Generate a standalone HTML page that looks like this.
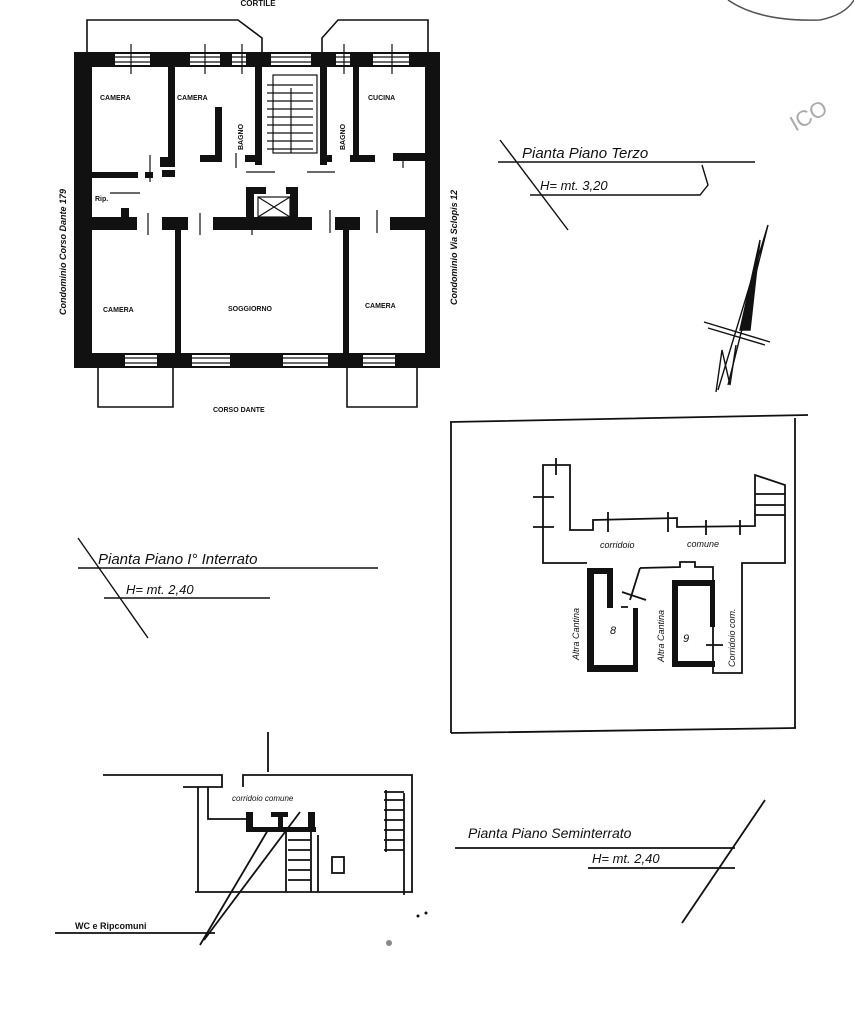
<!DOCTYPE html>
<html><head><meta charset="utf-8"><style>
html,body{margin:0;padding:0;background:#fff}
svg{display:block}
text{font-family:"Liberation Sans",sans-serif;fill:#111}
</style></head><body>
<svg width="854" height="1024" viewBox="0 0 854 1024" xmlns="http://www.w3.org/2000/svg">
<g stroke="#111" fill="none" stroke-width="1.6">
<text x="258" y="6" font-size="8" font-weight="bold" text-anchor="middle" stroke="none">CORTILE</text>
<polyline points="87,52 87,20 238,20 262,38 262,52"/>
<polyline points="322,52 322,38 338,20 428,20 428,52"/>
<polyline points="98,368 98,407 173,407 173,368"/>
<polyline points="347,368 347,407 417,407 417,368"/>
</g>
<path d="M728,0 Q760,22 820,20 Q845,15 854,0" stroke="#555" stroke-width="1.5" fill="none"/>
<g fill="#111">
<rect x="74" y="52" width="366" height="15"/>
<rect x="74" y="353" width="366" height="15"/>
<rect x="74" y="52" width="18" height="316"/>
<rect x="425" y="52" width="15" height="316"/>
<rect x="168" y="62" width="7" height="105"/>
<rect x="160" y="157" width="15" height="10"/>
<rect x="215" y="107" width="7" height="55"/>
<rect x="200" y="155" width="22" height="7"/>
<rect x="145" y="172" width="8" height="6"/>
<rect x="162" y="170" width="13" height="7"/>
<rect x="255" y="62" width="7" height="103"/>
<rect x="245" y="155" width="17" height="7"/>
<rect x="320" y="62" width="7" height="103"/>
<rect x="320" y="155" width="12" height="7"/>
<rect x="353" y="62" width="6" height="98"/>
<rect x="350" y="155" width="25" height="7"/>
<rect x="393" y="153" width="35" height="8"/>
<rect x="92" y="172" width="46" height="6"/>
<rect x="121" y="208" width="8" height="10"/>
<rect x="92" y="217" width="45" height="13"/>
<rect x="162" y="217" width="26" height="13"/>
<rect x="213" y="217" width="99" height="13"/>
<rect x="335" y="217" width="25" height="13"/>
<rect x="390" y="217" width="40" height="13"/>
<rect x="175" y="228" width="6" height="130"/>
<rect x="343" y="228" width="6" height="130"/>
<rect x="246" y="187" width="8" height="30"/>
<rect x="246" y="187" width="20" height="7"/>
<rect x="290" y="187" width="8" height="30"/>
<rect x="286" y="187" width="12" height="7"/>
</g>
<g fill="#fff">
<rect x="115" y="54" width="35" height="11"/><rect x="190" y="54" width="30" height="11"/>
<rect x="232" y="54" width="14" height="11"/><rect x="271" y="54" width="40" height="11"/>
<rect x="336" y="54" width="14" height="11"/><rect x="373" y="54" width="36" height="11"/>
<rect x="125" y="355" width="32" height="11"/><rect x="192" y="355" width="38" height="11"/>
<rect x="283" y="355" width="45" height="11"/><rect x="363" y="355" width="32" height="11"/>
</g>
<g stroke="#111" stroke-width="1.2" fill="none">
<path d="M115,57H150M115,62H150M190,57H220M190,62H220M232,57H246M232,62H246M271,57H311M271,62H311M336,57H350M336,62H350M373,57H409M373,62H409"/>
<path d="M125,358H157M125,363H157M192,358H230M192,363H230M283,358H328M283,363H328M363,358H395M363,363H395"/>
<path d="M131,44V74M205,44V74M242,44V74M344,44V74M392,44V74"/>
<path d="M150,155V170M236,153V168M403,153V168M148,213V235M150,163V182M200,213V235M252,213V235M330,210V233M377,210V233"/>
<path d="M246,172H275M307,172H335M110,193H140"/>
<rect x="273" y="75" width="44" height="78"/>
<path d="M267,85H313M267,93H313M267,101H313M267,109H313M267,117H313M267,125H313M267,133H313M267,141H313M267,149H313M291,88V153"/>
<rect x="258" y="197" width="32" height="20"/>
<path d="M258,197L290,217M290,197L258,217"/>
</g>
<g font-size="7" font-weight="bold" stroke="none">
<text x="100" y="100">CAMERA</text><text x="177" y="100">CAMERA</text>
<text x="368" y="100">CUCINA</text><text x="95" y="201">Rip.</text>
<text x="103" y="312">CAMERA</text><text x="228" y="311">SOGGIORNO</text><text x="365" y="308">CAMERA</text>
<text x="213" y="412">CORSO DANTE</text>
<text transform="translate(243,150) rotate(-90)">BAGNO</text>
<text transform="translate(345,150) rotate(-90)">BAGNO</text>
<text transform="translate(66,315) rotate(-90)" font-style="italic" font-size="9">Condominio Corso Dante 179</text>
<text transform="translate(457,305) rotate(-90)" font-style="italic" font-size="9">Condominio Via Sclopis 12</text>
</g>
<g stroke="#111" stroke-width="1.4" fill="none">
<path d="M498,162H755M530,195H700L708,185 702,165 M500,140L568,230"/>
<path d="M768,225L718,390M768,225L728,385M704,322L770,342M708,328L765,345"/>
<path d="M760,240L740,330L750,330Z" fill="#111"/>
<path d="M716,392L722,350 730,385 736,345"/>
</g>
<text x="522" y="158" font-size="15" font-style="italic" stroke="none">Pianta Piano Terzo</text>
<text x="540" y="190" font-size="13" font-style="italic" stroke="none">H= mt. 3,20</text>
<text x="790" y="128" font-size="22" stroke="none" transform="rotate(-30 800 120)" style="fill:#aaa">ICO</text>
<g stroke="#111" stroke-width="1.4" fill="none">
<path d="M78,568H378M104,598H270M78,538L148,638"/>
</g>
<text x="98" y="564" font-size="15" font-style="italic" stroke="none">Pianta Piano I° Interrato</text>
<text x="126" y="594" font-size="13" font-style="italic" stroke="none">H= mt. 2,40</text>
<g stroke="#111" stroke-width="1.8" fill="none">
<path d="M450,422L808,415M451,422V733M795,418V728M451,733L796,728"/>
<polyline points="587,563 543,563 543,465 570,465 570,530 593,530 593,520 677,518 677,527 755,526 755,475 785,485 785,563 742,563 742,673 713,673 713,567 695,567 695,562 680,562 680,567 640,568"/>
<path d="M533,497H554M533,527H554M556,458V475M608,512V532M668,512V532M706,520V535M740,520V535"/>
<path d="M755,494H785M755,505H785M755,515H785"/>
<path d="M640,568L630,600M622,592L646,600M621,607H628"/>
<path d="M706,645H723"/>
</g>
<g fill="#111">
<path d="M587,568H613V608H607V574H594V665H633V608H638V672H587Z"/>
<path d="M672,580H715V627H710V586H678V661H715V667H672Z"/>
</g>
<g font-size="9" font-style="italic" stroke="none">
<text x="600" y="548">corridoio</text><text x="687" y="547">comune</text>
<text x="610" y="634" font-size="11">8</text><text x="683" y="642" font-size="11">9</text>
<text transform="translate(579,660) rotate(-90)">Altra Cantina</text>
<text transform="translate(664,662) rotate(-90)">Altra Cantina</text>
<text transform="translate(735,667) rotate(-90)">Corridoio com.</text>
</g>
<g stroke="#111" stroke-width="1.8" fill="none">
<path d="M268,732V772M103,775H222V787H183M243,787V775H412V892M195,892H413M198,787V892M208,787V819H247"/>
<path d="M404,793V895M386,790V852M384,792H404M384,800H404M384,810H404M384,820H404M384,830H404M384,840H404M384,850H404"/>
<path d="M286,830V892M311,830V892M288,840H310M288,850H310M288,860H310M288,870H310M288,880H310M318,835V892"/>
<rect x="332" y="857" width="12" height="16"/>
<path d="M268,830L200,945M300,812L204,940M55,933H215"/>
<path d="M455,848H735M588,868H735M682,923L765,800"/>
</g>
<g fill="#111">
<rect x="246" y="812" width="7" height="20"/><rect x="246" y="827" width="70" height="5"/>
<rect x="271" y="812" width="17" height="5"/><rect x="278" y="812" width="5" height="18"/>
<rect x="308" y="812" width="7" height="20"/>
</g>
<text x="232" y="801" font-size="8" font-style="italic" stroke="none">corridoio comune</text>
<text x="75" y="929" font-size="9" font-weight="bold" stroke="none">WC e Ripcomuni</text>
<text x="468" y="838" font-size="14" font-style="italic" stroke="none">Pianta Piano Seminterrato</text>
<text x="592" y="863" font-size="13" font-style="italic" stroke="none">H= mt. 2,40</text>
<circle cx="389" cy="943" r="3" fill="#888"/>
<circle cx="418" cy="916" r="1.5" fill="#111"/><circle cx="426" cy="913" r="1.5" fill="#111"/>
</svg>
</body></html>
